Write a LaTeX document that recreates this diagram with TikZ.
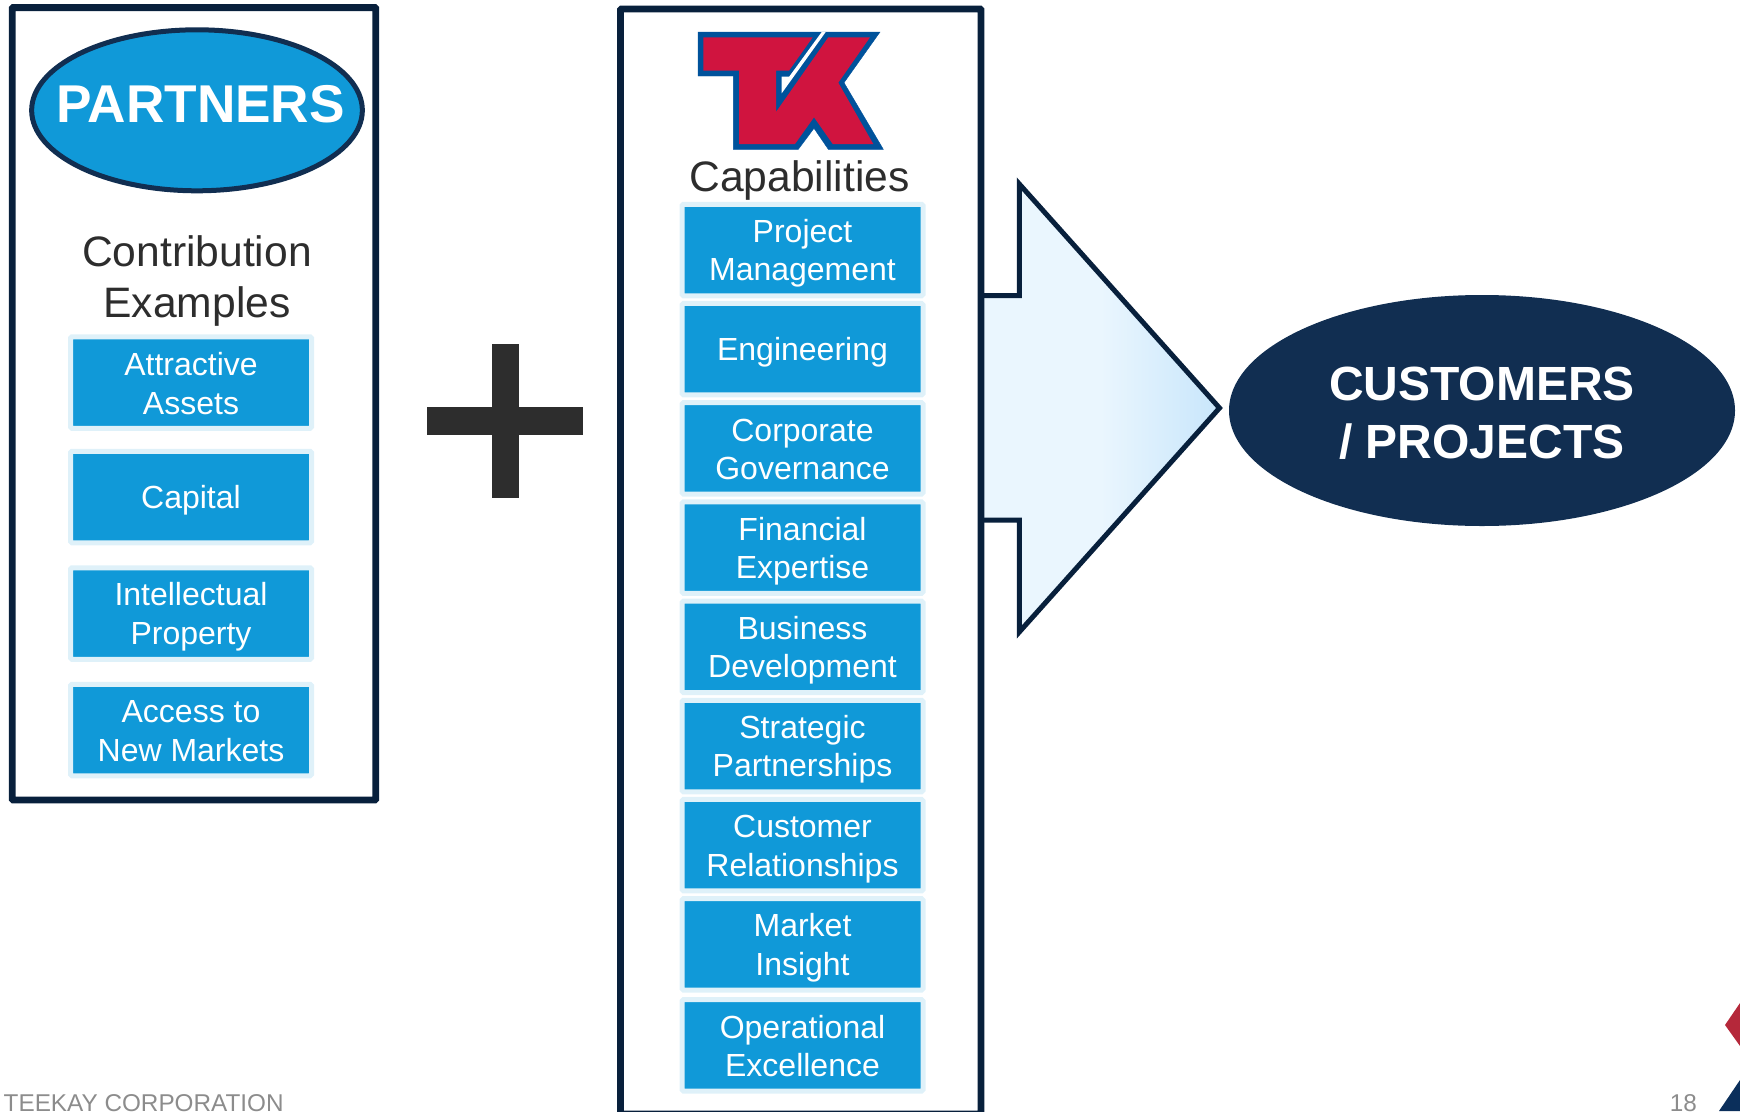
\documentclass[tikz,border=0pt]{standalone}
\usepackage{fontspec}
\usepackage{xcolor}
\usetikzlibrary{positioning, shapes.geometric}
\setmainfont{Liberation Sans}
\definecolor{framenavy}{RGB}{8,32,60}
\definecolor{custnavy}{RGB}{17,46,81}
\definecolor{boxblue}{RGB}{16,153,216}
\definecolor{boxhalo}{RGB}{223,241,249}
\definecolor{darktext}{RGB}{45,45,45}
\definecolor{footgrey}{RGB}{140,140,140}
\definecolor{logored}{RGB}{208,20,63}
\definecolor{logoblue}{RGB}{0,82,155}
\definecolor{cornerred}{RGB}{181,40,58}
\definecolor{cornernavy}{RGB}{11,47,91}
\definecolor{arrowpale}{RGB}{234,246,254}
\definecolor{arrowtip}{RGB}{200,230,251}
\tikzset{
    textdrop/.style={execute at begin node={\rule{0pt}{#1}}},
    itembox/.style={rectangle, draw=boxhalo, fill=boxblue, line width=5pt, rounded corners=1.5pt, minimum width=241pt, minimum height=91.5pt, inner sep=0pt, outer sep=0pt, align=center, text=white, font=\fontsize{32}{38.5}\selectfont},
    framebox/.style={draw=framenavy, line width=6.8pt, rounded corners=1pt},
    heading/.style={inner sep=0pt, align=center, text=darktext},
    footer/.style={inner sep=0pt, text=footgrey, font=\fontsize{24.3}{30}\selectfont}
}
\begin{document}
\begin{tikzpicture}[x=1pt, y=-1pt]
    \useasboundingbox (0,0) rectangle (1740,1111);
    \draw[draw=framenavy, line width=5pt, left color=arrowpale, right color=arrowtip, middle color=arrowpale, miter limit=10] (981,295.7) -- (1019.3,295.7) -- (1019.3,184) -- (1219.5,408) -- (1019.3,632) -- (1019.3,520) -- (981,520) -- cycle;
    \draw[framebox] (12.2,7.6) rectangle (375.8,800);
    \draw[framebox] (620.5,9) rectangle (981,1114);
    \node[ellipse, draw=custnavy, fill=boxblue, line width=5pt, minimum width=330.7pt, minimum height=161pt, inner sep=0pt, outer sep=0pt] (partners) at (197,110.3) {};
    \node[anchor=base, inner sep=0pt, text=white, font=\fontsize{53.2}{60}\bfseries\selectfont] (partnerstext) at (200.5,122.7) {PARTNERS};
    \node[heading, anchor=base, font=\fontsize{42.6}{50.5}\selectfont] (contribution) at (197,317) {Contribution\\Examples};
    \node[itembox, textdrop=63.5pt] (assets) at (191,382.5) {Attractive\\Assets};
    \node[itembox, textdrop=30pt, below=23pt of assets] (capital) {Capital};
    \node[itembox, textdrop=68.5pt, below=25pt of capital] (property) {Intellectual\\Property};
    \node[itembox, textdrop=62.5pt, below=25pt of property] (markets) {Access to\\New Markets};
    \fill[darktext] (427.3,407.3) rectangle (582.7,435);
    \fill[darktext] (492,344) rectangle (519.3,498.3);
    \filldraw[logoblue] (698,32) -- (880,32) -- (844,82.7) -- (883.3,149.3) -- (828.3,149.3) -- (814,128.3) -- (798.3,149.3) -- (733.3,149.3) -- (733.3,76) -- (698,76) -- cycle;
    \fill[white] (821.7,32) -- (825.7,32) -- (781.7,93.3) -- (781.7,76.5) -- (789.3,76.5) -- cycle;
    \fill[logored] (703.3,37.3) -- (812.7,37.3) -- (789,70.7) -- (776,70.7) -- (776,112) -- (828.3,37.3) -- (870,37.3) -- (838.3,82.7) -- (873.3,144) -- (832.7,144) -- (814,117.3) -- (795,144) -- (739,144) -- (739,70.7) -- (703.3,70.7) -- cycle;
    \node[heading, anchor=base, font=\fontsize{42.6}{50}\selectfont] (capabilities) at (799.5,191.5) {Capabilities};
    \node[itembox, textdrop=68.5pt] (management) at (802.5,250) {Project\\Management};
    \node[itembox, textdrop=30pt, below=7.7pt of management] (engineering) {Engineering};
    \node[itembox, textdrop=62.5pt, below=7.7pt of engineering] (governance) {Corporate\\Governance};
    \node[itembox, textdrop=68.5pt, below=7.7pt of governance] (financial) {Financial\\Expertise};
    \node[itembox, textdrop=68.5pt, below=7.7pt of financial] (business) {Business\\Development};
    \node[itembox, textdrop=68.5pt, below=7.7pt of business] (strategic) {Strategic\\Partnerships};
    \node[itembox, textdrop=68.5pt, below=7.7pt of strategic] (customer) {Customer\\Relationships};
    \node[itembox, textdrop=68.5pt, below=7.7pt of customer] (insight) {Market\\Insight};
    \node[itembox, textdrop=62.5pt, below=9.5pt of insight] (operational) {Operational\\Excellence};
    \node[ellipse, fill=custnavy, minimum width=506pt, minimum height=231pt, inner sep=0pt, outer sep=0pt, align=center, text=white, font=\fontsize{48}{58}\bfseries\selectfont, textdrop=97.5pt] (customers) at (1482,410.5) {CUSTOMERS\\/ PROJECTS};
    \node[footer, anchor=base west] (company) at (3.5,1111) {TEEKAY CORPORATION};
    \node[footer, anchor=base east] (pagenum) at (1697,1111) {18};
    \fill[cornerred] (1725,1025) -- (1740,1003) -- (1740,1046) -- cycle;
    \fill[cornernavy] (1719,1111) -- (1740,1080) -- (1740,1111) -- cycle;
\end{tikzpicture}
\end{document}
